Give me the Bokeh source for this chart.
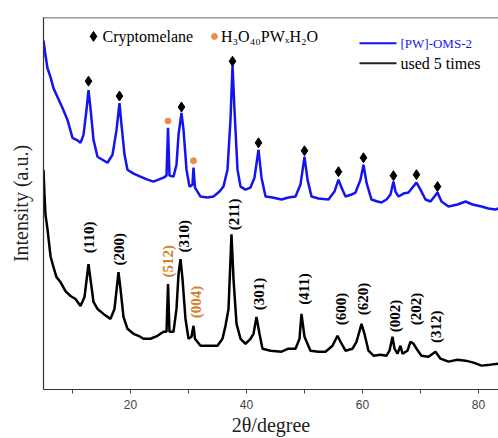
from bokeh.plotting import figure
from bokeh.models import Range1d, FixedTicker, Span
from bokeh.core.properties import value
from bokeh.embed import file_html
from bokeh.resources import INLINE
import math

# ---- data (2theta in degree, intensity in a.u.) ----
fresh_x = [5.0, 5.34, 5.69, 6.21, 6.72, 7.41, 8.28, 9.14, 10.0, 10.69, 11.38, 11.9, 12.41, 12.76, 13.1,
           13.62, 14.31, 15.17, 16.03, 16.9, 17.59, 18.1, 18.45, 18.97, 19.48, 20.52, 21.72, 22.93,
           23.97, 24.83, 25.69, 26.21, 26.47, 26.72, 27.41, 27.93, 28.28, 28.79, 29.14, 29.66, 30.17,
           30.69, 30.86, 31.12, 32.07, 33.28, 34.31, 35.34, 36.03, 36.72, 37.24, 37.59, 37.93, 38.45,
           38.97, 39.83, 40.69, 41.38, 42.07, 42.59, 43.28, 44.48, 46.03, 47.24, 48.45, 49.31, 50.0,
           50.52, 51.21, 52.41, 54.14, 55.17, 55.86, 56.38, 57.07, 58.1, 58.79, 59.66, 60.17, 60.69,
           61.55, 62.59, 63.28, 64.14, 64.83, 65.34, 65.69, 66.21, 67.07, 67.93, 68.62, 69.31, 70.0,
           70.86, 71.72, 72.41, 72.93, 73.62, 74.83, 76.38, 77.76, 78.97, 80.52, 81.72, 82.93, 83.45]
fresh_y = [351, 336, 323, 314, 303, 294, 283, 271, 253, 251, 248, 256, 281, 301, 283,
           251, 234, 231, 228, 236, 261, 288, 266, 236, 221, 217, 214, 211,
           209, 211, 213, 215, 263, 215, 214, 226, 256, 278, 261, 221, 204,
           206, 223, 203, 194, 193, 194, 199, 204, 221, 271, 326, 281, 221,
           204, 201, 203, 213, 241, 213, 194, 193, 191, 193, 194, 206, 234,
           211, 194, 192, 191, 199, 211, 203, 194, 196, 198, 211, 226, 208,
           191, 189, 188, 191, 196, 209, 199, 194, 197, 198, 203, 208, 201,
           191, 189, 194, 198, 189, 184, 186, 189, 186, 184, 182, 181, 182]

used_x = [5.0, 5.17, 5.34, 5.69, 6.21, 6.72, 7.24, 7.93, 8.79, 9.66, 10.52, 11.38, 12.07, 12.76, 13.1,
          13.62, 14.31, 15.34, 16.55, 17.24, 17.93, 18.28, 18.79, 19.48, 20.52, 21.38, 22.24, 23.45,
          24.66, 25.69, 26.21, 26.47, 26.72, 27.41, 27.93, 28.28, 28.62, 28.97, 29.48, 30.0, 30.52,
          30.86, 31.12, 32.07, 33.45, 35.0, 35.86, 36.38, 36.9, 37.41, 37.76, 38.28, 38.97, 39.83,
          40.69, 41.21, 41.72, 42.24, 42.76, 44.14, 46.03, 47.24, 48.45, 49.14, 49.48, 50.0, 51.03,
          52.41, 53.62, 54.83, 55.69, 56.21, 57.07, 58.28, 58.97, 59.83, 60.34, 61.03, 61.9, 63.1,
          64.14, 64.66, 65.17, 65.52, 66.03, 66.55, 66.9, 67.76, 68.28, 68.79, 69.31, 70.17, 71.38,
          72.59, 73.45, 74.83, 76.38, 77.76, 79.14, 80.52, 82.07, 83.45]
used_y = [221, 196, 176, 161, 134, 123, 113, 108, 99, 94, 91, 84, 93, 126, 111,
          88, 81, 76, 71, 81, 118, 101, 73, 61, 56, 54, 51, 51,
          54, 58, 58, 106, 58, 58, 81, 116, 131, 111, 71, 51, 53,
          64, 51, 44, 44, 44, 51, 64, 81, 156, 111, 66, 51, 46,
          51, 56, 73, 56, 41, 39, 38, 41, 41, 51, 76, 53, 39,
          38, 38, 44, 54, 48, 39, 41, 48, 66, 56, 39, 34, 35,
          34, 39, 53, 41, 36, 44, 36, 39, 48, 46, 41, 34, 33,
          38, 31, 28, 30, 29, 27, 24, 25, 26]

crypto_x = [12.76, 18.1, 28.79, 37.59, 42.07, 50.0, 55.86, 60.17, 65.34, 69.31, 72.93]
crypto_y = [310, 295, 284, 330, 248, 240, 219, 233, 215, 216, 204]
hpw_x = [26.47, 30.86]
hpw_y = [270, 230]

hkl_labels = ["(110)", "(200)", "(512)", "(310)", "(004)", "(211)", "(301)", "(411)",
              "(600)", "(620)", "(002)", "(202)", "(312)"]
hkl_x = [12.93, 18.1, 26.38, 29.14, 31.21, 37.76, 42.07, 49.83, 56.21, 60.17, 65.69, 69.14, 72.76]
hkl_y = [153, 141, 129, 154, 88, 176, 96, 101, 81, 91, 74, 81, 63]
hkl_is_hpw = [False, False, True, False, True, False, False, False, False, False, False, False, False]

x_ticks = [20, 40, 60, 80]
x_minor = [10, 30, 50, 70]

BLUE = "#1414f0"
ORANGE_DOT = "#ee8a50"
ORANGE_TXT = "#d5812c"
SERIF = "Liberation Serif"

p = figure(width=498, height=438, output_backend="svg", toolbar_location=None,
           x_range=Range1d(5.0, 83.45), y_range=Range1d(0, 374),
           min_border_left=43, min_border_right=0, min_border_top=17, min_border_bottom=47)
p.outline_line_color = None
p.grid.visible = False
p.background_fill_color = "white"

# axes
p.xaxis.ticker = FixedTicker(ticks=x_ticks, minor_ticks=x_minor)
p.xaxis.major_tick_in = 0
p.xaxis.major_tick_out = 4
p.xaxis.minor_tick_in = 0
p.xaxis.minor_tick_out = 4
p.xaxis.major_tick_line_color = "#444444"
p.xaxis.minor_tick_line_color = "#444444"
p.xaxis.axis_line_color = "#333333"
p.xaxis.axis_line_width = 1.2
p.xaxis.major_label_text_font = "Liberation Sans"
p.xaxis.major_label_text_font_size = "12px"
p.xaxis.major_label_text_color = "#444444"
p.xaxis.major_label_standoff = 6
p.xaxis.axis_label = "2θ/degree"
p.xaxis.axis_label_text_font = SERIF
p.xaxis.axis_label_text_font_size = "20px"
p.xaxis.axis_label_text_font_style = "normal"
p.xaxis.axis_label_text_color = "#222222"
p.xaxis.axis_label_standoff = 2

p.yaxis.ticker = FixedTicker(ticks=[])
p.yaxis.major_label_text_font_size = "0px"
p.yaxis.major_tick_line_color = None
p.yaxis.minor_tick_line_color = None
p.yaxis.axis_line_color = "#333333"
p.yaxis.axis_line_width = 1.2
p.yaxis.axis_label = "Intensity (a.u.)"
p.yaxis.axis_label_text_font = SERIF
p.yaxis.axis_label_text_font_size = "20px"
p.yaxis.axis_label_text_font_style = "normal"
p.yaxis.axis_label_text_color = "#222222"
p.yaxis.axis_label_standoff = 12

# top border (no right border: the chart is cut at the right)
p.add_layout(Span(location=374, dimension="width", line_color="#333333", line_width=1.5))

# traces
p.line(fresh_x, fresh_y, line_color=BLUE, line_width=2.5)
p.line(used_x, used_y, line_color="black", line_width=2.5)

# peak markers
p.scatter(crypto_x, crypto_y, marker="diamond", size=10, fill_color="black", line_color="black")
p.scatter(hpw_x, hpw_y, marker="circle", size=6, fill_color=ORANGE_DOT, line_color=ORANGE_DOT)

# hkl labels
cols = [ORANGE_TXT if h else "black" for h in hkl_is_hpw]
p.text(x=hkl_x, y=hkl_y, text=hkl_labels, angle=math.pi / 2, text_color=cols,
       text_font=value(SERIF), text_font_size="15px", text_font_style="bold",
       text_align="center", text_baseline="middle")

# legend (top left)
p.scatter([13.62], [355], marker="diamond", size=10, fill_color="black", line_color="black")
p.text(x=[15.17], y=[355], text=["Cryptomelane"], text_font=value(SERIF), text_font_size="16px",
       text_align="left", text_baseline="middle", text_color="black")
p.scatter([34.48], [355], marker="circle", size=6, fill_color=ORANGE_DOT, line_color=ORANGE_DOT)
p.text(x=[35.6], y=[355], text=["H₃O₄₀PWₓH₂O"], text_font=value(SERIF), text_font_size="16px",
       text_align="left", text_baseline="middle", text_color="black")

# legend (top right)
p.segment(x0=[59.48], y0=[348], x1=[65.86], y1=[348], line_color=BLUE, line_width=2)
p.text(x=[66.55], y=[348], text=["[PW]-OMS-2"], text_font=value(SERIF), text_font_size="13px",
       text_align="left", text_baseline="middle", text_color=BLUE)
p.segment(x0=[59.48], y0=[328], x1=[65.86], y1=[328], line_color="#222222", line_width=2)
p.text(x=[66.55], y=[328], text=["used 5 times"], text_font=value(SERIF), text_font_size="16px",
       text_align="left", text_baseline="middle", text_color="black")

open("out.html", "w").write(file_html(p, INLINE))
